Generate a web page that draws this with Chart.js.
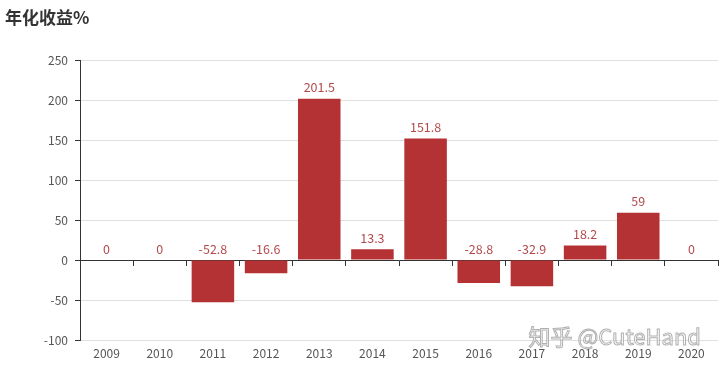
<!DOCTYPE html>
<html>
<head>
<meta charset="utf-8">
<script src="https://cdn.jsdelivr.net/npm/chart.js@4/dist/chart.umd.min.js"></script>
<style>
html,body{margin:0;padding:0;background:#fff;}
#wrap{width:720px;height:367px;position:relative;}
</style>
</head>
<body>
<div id="wrap"><canvas id="c" width="720" height="367"></canvas></div>
<script>
const titleText = '年化收益%';
const categories = ['2009','2010','2011','2012','2013','2014','2015','2016','2017','2018','2019','2020'];
const returns = [0, 0, -52.8, -16.6, 201.5, 13.3, 151.8, -28.8, -32.9, 18.2, 59, 0];
const yTicks = [-100, -50, 0, 50, 100, 150, 200, 250];
const watermark = '知乎 @CuteHand';

const FONT = '"Noto Sans CJK SC", "Noto Sans", sans-serif';
const BAR = '#b53234';
const LABEL = '#b3494b';

const labelPlugin = {
  id: 'barLabels',
  afterDatasetsDraw(chart) {
    const ctx = chart.ctx;
    const meta = chart.getDatasetMeta(0);
    ctx.save();
    ctx.font = '12.5px ' + FONT;
    ctx.fillStyle = LABEL;
    ctx.textAlign = 'center';
    ctx.textBaseline = 'bottom';
    meta.data.forEach((bar, i) => {
      const top = Math.min(bar.y, bar.base);
      ctx.fillText(String(returns[i]), bar.x, top - 5);
    });
    ctx.restore();
  }
};

const watermarkPlugin = {
  id: 'watermark',
  afterDraw(chart) {
    const ctx = chart.ctx;
    ctx.save();
    ctx.font = '22px ' + FONT;
    ctx.textAlign = 'right';
    ctx.textBaseline = 'middle';
    ctx.fillStyle = 'rgba(255,255,255,0.75)';
    ctx.strokeStyle = 'rgba(150,150,150,0.75)';
    ctx.lineWidth = 1;
    ctx.fillText(watermark, 701, 337);
    ctx.strokeText(watermark, 701, 337);
    ctx.restore();
  }
};

new Chart(document.getElementById('c'), {
  type: 'bar',
  data: {
    labels: categories,
    datasets: [{
      data: returns,
      backgroundColor: BAR,
      barPercentage: 0.8,
      categoryPercentage: 1,
      xAxisID: 'x',
      yAxisID: 'y'
    }]
  },
  options: {
    responsive: false,
    animation: false,
    layout: { padding: { left: 5, right: 2, top: 0, bottom: 0 } },
    plugins: {
      legend: { display: false },
      tooltip: { enabled: false },
      title: {
        display: true,
        text: titleText,
        align: 'start',
        color: '#333',
        font: { family: FONT, size: 17, weight: 'bold', lineHeight: 1.2 },
        padding: { top: 7, bottom: 32.6 }
      }
    },
    scales: {
      x: {
        type: 'category',
        position: 'bottom',
        offset: true,
        border: { display: false },
        grid: { display: false, drawTicks: false },
        ticks: { color: '#555', padding: 6, font: { family: FONT, size: 12 }, maxRotation: 0, autoSkip: false },
        afterFit(s) { s.height = 27; }
      },
      x0: {
        type: 'category',
        position: { y: 0 },
        offset: true,
        border: { display: true, color: '#333', width: 1 },
        grid: { display: true, offset: true, drawOnChartArea: false, drawTicks: true, tickLength: 5, tickColor: '#333' },
        ticks: { display: false }
      },
      y: {
        min: -100,
        max: 250,
        afterBuildTicks(s) { s.ticks = yTicks.map(v => ({ value: v })); },
        border: { display: true, color: '#333', width: 1 },
        grid: { color: '#e0e0e0', tickColor: '#333', tickLength: 5, drawTicks: true },
        ticks: { color: '#555', padding: 7, font: { family: FONT, size: 12 } },
        afterFit(s) { s.width = 75; }
      }
    }
  },
  plugins: [labelPlugin, watermarkPlugin]
});
</script>
</body>
</html>
